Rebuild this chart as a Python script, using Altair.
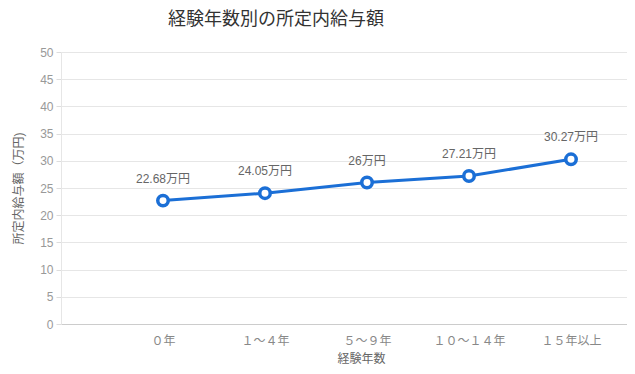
import altair as alt
import pandas as pd

categories = ["０年", "１～４年", "５～９年", "１０～１４年", "１５年以上"]
values = [22.68, 24.05, 26, 27.21, 30.27]
labels = ["22.68万円", "24.05万円", "26万円", "27.21万円", "30.27万円"]

df = pd.DataFrame({"idx": list(range(len(categories))), "cat": categories,
                   "val": values, "lab": labels})
FONT = "Liberation Sans, Noto Sans CJK JP, sans-serif"
BLUE = "#1b6fd6"

cat_js = "[" + ",".join("'" + c + "'" for c in categories) + "]"

x = alt.X("idx:Q", title="経験年数",
          scale=alt.Scale(domain=[-1, 4.549], nice=False, zero=False),
          axis=alt.Axis(values=list(range(len(categories))),
                        labelExpr=cat_js + "[datum.value]",
                        labelAngle=0, ticks=False, labelPadding=11, labelColor="#888",
                        labelFontSize=12, titleFontSize=12, titleColor="#666",
                        titleFontWeight="normal", titlePadding=7, titleX=300,
                        domainColor="#ccc",
                        grid=False, labelFont=FONT, titleFont=FONT))
y = alt.Y("val:Q", title="所定内給与額（万円)",
          scale=alt.Scale(domain=[0, 50], nice=False),
          axis=alt.Axis(values=list(range(0, 51, 5)), tickSize=5, tickColor="#ddd",
                        labelColor="#999", labelFontSize=12, labelPadding=3,
                        titleColor="#666", titleFontSize=12, titleFontWeight="normal",
                        titlePadding=14, gridColor="#e6e6e6", domainColor="#e6e6e6",
                        labelFont=FONT, titleFont=FONT))

base = alt.Chart(df).encode(x=x, y=y)
line = base.mark_line(color=BLUE, strokeWidth=3)
pts = base.mark_point(shape="circle", filled=True, fill="white", stroke=BLUE,
                      strokeWidth=3.5, size=110, opacity=1)
txt = base.mark_text(dy=-22, fontSize=12, color="#666", font=FONT).encode(text="lab:N")

chart = (line + pts + txt).properties(
    width=566, height=272,
    autosize=alt.AutoSizeParams(type="none"),
    padding={"left": 53, "top": 44, "right": 0, "bottom": 42},
    title=alt.TitleParams("経験年数別の所定内給与額", fontSize=18, font=FONT,
                          fontWeight="normal", color="#333", anchor="middle",
                          dx=-68, offset=17),
).configure_view(stroke=None)

chart.save("out.html", embed_options={"renderer": "svg", "actions": False})
